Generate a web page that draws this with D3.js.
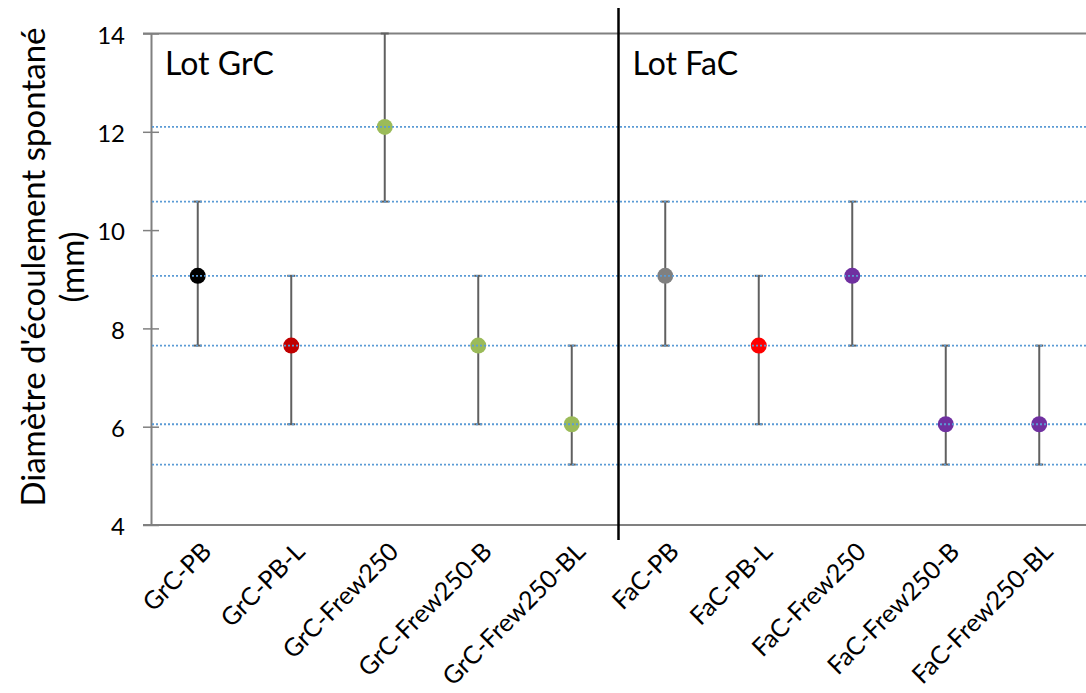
<!DOCTYPE html>
<html>
<head>
<meta charset="utf-8">
<script src="https://cdn.jsdelivr.net/npm/d3@7"></script>
<style>
  body { margin: 0; background: #fff; }
  text { font-family: Lato, "Open Sans", sans-serif; fill: #000; }
</style>
</head>
<body>
<script>
// chart data
const categories = ["GrC-PB", "GrC-PB-L", "GrC-Frew250", "GrC-Frew250-B", "GrC-Frew250-BL",
  "FaC-PB", "FaC-PB-L", "FaC-Frew250", "FaC-Frew250-B", "FaC-Frew250-BL"];
const values = [9.07, 7.65, 12.1, 7.65, 6.05, 9.07, 7.65, 9.07, 6.05, 6.05];
const lowErr = [7.65, 6.05, 10.58, 6.05, 5.23, 7.65, 6.05, 7.65, 5.23, 5.23];
const highErr = [10.58, 9.07, 14, 9.07, 7.65, 10.58, 9.07, 10.58, 7.65, 7.65];
const colors = ["#000000", "#c00000", "#9bbb59", "#9bbb59", "#9bbb59",
  "#808080", "#ff0000", "#7030a0", "#7030a0", "#7030a0"];
const refLines = [12.1, 10.58, 9.07, 7.65, 6.05, 5.23];
const yTicks = [4, 6, 8, 10, 12, 14];
const groups = ["Lot GrC", "Lot FaC"];

const w = 1086, h = 693;
const mLeft = 151, mRight = 1086, mTop = 33.5, mBottom = 525;

let svg = d3.select("body").append("svg")
  .attr("width", w).attr("height", h);

let xScale = d3.scaleBand().domain(categories).range([mLeft, mRight]);
let yScale = d3.scaleLinear().domain([4, 14]).range([mBottom, mTop]);
const cx = (d, i) => xScale(categories[i]) + xScale.bandwidth() / 2;

// top line
svg.append("line")
  .attr("x1", mLeft - 8).attr("x2", mRight)
  .attr("y1", yScale(14)).attr("y2", yScale(14))
  .attr("stroke", "#808080").attr("stroke-width", 2);

// y axis
let yAxis = svg.append("g")
  .attr("transform", `translate(${mLeft},0)`)
  .call(d3.axisLeft(yScale).tickValues(yTicks).tickSize(0).tickPadding(26));
yAxis.select(".domain").attr("stroke", "#808080").attr("stroke-width", 2);
yAxis.selectAll("text").style("font-size", "24px").style("font-family", "Lato, sans-serif").attr("dy", "0.4em");
yAxis.selectAll(".tick").append("line")
  .attr("x1", -8).attr("x2", 8).attr("stroke", "#808080").attr("stroke-width", 1.5);

// x axis
svg.append("line")
  .attr("x1", mLeft - 8).attr("x2", mRight)
  .attr("y1", mBottom).attr("y2", mBottom)
  .attr("stroke", "#808080").attr("stroke-width", 2);

svg.selectAll(".xlab")
  .data(categories)
  .enter()
  .append("text")
  .attr("class", "xlab")
  .attr("transform", d => `translate(${xScale(d) + xScale.bandwidth() / 2 + 9},${mBottom + 22}) rotate(-45)`)
  .attr("text-anchor", "end")
  .attr("dy", "0.35em")
  .style("font-size", "25px")
  .text(d => d);

// error bars
const cap = 4;
let bars = svg.selectAll(".err")
  .data(values)
  .enter()
  .append("g")
  .attr("class", "err");
bars.append("line")
  .attr("x1", cx).attr("x2", cx)
  .attr("y1", (d, i) => yScale(lowErr[i]))
  .attr("y2", (d, i) => yScale(highErr[i]))
  .attr("stroke", "#606060").attr("stroke-width", 2);
[lowErr, highErr].forEach(arr => {
  bars.append("line")
    .attr("x1", (d, i) => cx(d, i) - cap)
    .attr("x2", (d, i) => cx(d, i) + cap)
    .attr("y1", (d, i) => yScale(arr[i]))
    .attr("y2", (d, i) => yScale(arr[i]))
    .attr("stroke", "#606060").attr("stroke-width", 2);
});

// markers
svg.selectAll(".pt")
  .data(values)
  .enter()
  .append("circle")
  .attr("class", "pt")
  .attr("cx", cx)
  .attr("cy", d => yScale(d))
  .attr("r", 8)
  .attr("fill", (d, i) => colors[i]);

// dotted reference lines
svg.selectAll(".ref")
  .data(refLines)
  .enter()
  .append("line")
  .attr("class", "ref")
  .attr("x1", mLeft + 1).attr("x2", mRight)
  .attr("y1", d => yScale(d)).attr("y2", d => yScale(d))
  .attr("stroke", "#5b9bd5").attr("stroke-width", 1.8)
  .attr("stroke-dasharray", "2,2");

// separator
const sepX = xScale(categories[5]);
svg.append("line")
  .attr("x1", sepX).attr("x2", sepX)
  .attr("y1", 8).attr("y2", 540)
  .attr("stroke", "#000").attr("stroke-width", 2.5);

// group labels
svg.selectAll(".grp")
  .data(groups)
  .enter()
  .append("text")
  .attr("class", "grp")
  .attr("x", (d, i) => xScale(categories[i * 5]) + 14)
  .attr("y", 75)
  .style("font-size", "32px")
  .text(d => d);

// y title
let yt = svg.append("text")
  .attr("transform", `translate(45,267) rotate(-90)`)
  .attr("text-anchor", "middle")
  .style("font-size", "33px");
yt.append("tspan").attr("x", 0).attr("dy", 0).text("Diamètre d'écoulement spontané");
yt.append("tspan").attr("x", 0).attr("dy", 39).text("(mm)");
</script>
</body>
</html>
